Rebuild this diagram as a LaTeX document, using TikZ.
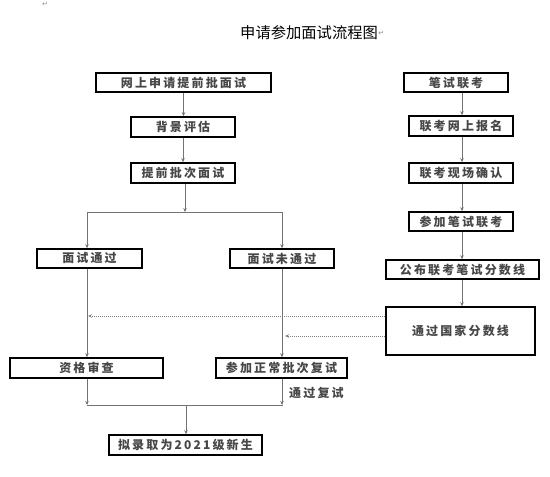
\documentclass[tikz,border=0pt]{standalone}
\usepackage{fontspec}
\newfontfamily\cjk{Noto Sans CJK SC}
\newfontfamily\boxfont[LetterSpace=18]{Noto Sans CJK SC}
\newfontfamily\symfont{DejaVu Sans}
\usetikzlibrary{arrows.meta,shadows}
\begin{document}
\begin{tikzpicture}[x=1pt,y=-1pt,
  boxtext/.style={font=\boxfont\bfseries\fontsize{12}{14}\selectfont,text=black!72},
  box/.style={boxtext,draw=black,line width=1.6pt,fill=white,inner sep=0pt,
    drop shadow={shadow xshift=0.8pt,shadow yshift=-0.8pt,fill=black!40,opacity=1}},
  conn/.style={draw=black!55,line width=0.8pt},
  arr/.style={conn,-{Stealth[length=4pt,width=3.5pt]}},
  dotarr/.style={draw=black!50,line width=0.8pt,dash pattern=on 1pt off 1pt,-{Stealth[length=4pt,width=3.5pt,open]}},
  pmark/.style={font=\symfont\fontsize{7}{8}\selectfont,text=black!45,inner sep=0pt}]
\useasboundingbox (0,0) rectangle (550,477);
\fill[white] (0,0) rectangle (550,477);
% paragraph marks and title
\node[pmark] (m0) at (45,4) {↵};
\node[font=\cjk\fontsize{15.3}{17}\selectfont,inner sep=0pt,anchor=west] (title) at (240,33) {申请参加面试流程图};
\node[pmark,anchor=west] (m1) at (title.east) {↵};
% left column
\node[box,minimum width=175pt,minimum height=19pt] (a1) at (183.5,82.5) {网上申请提前批面试};
\node[box,minimum width=104pt,minimum height=20pt] (a2) at (183,127) {背景评估};
\node[box,minimum width=104pt,minimum height=20pt] (a3) at (183,173) {提前批次面试};
\node[box,minimum width=105pt,minimum height=19pt] (b1) at (89.5,258.5) {面试通过};
\node[box,minimum width=104pt,minimum height=19pt] (b2) at (282,258.5) {面试未通过};
\node[box,minimum width=153pt,minimum height=20pt] (c1) at (86.5,368) {资格审查};
\node[box,minimum width=131pt,minimum height=20pt] (c2) at (281.5,368) {参加正常批次复试};
\node[box,minimum width=153pt,minimum height=20pt] (d) at (185.5,445) {拟录取为2021级新生};
% right column
\node[box,minimum width=104pt,minimum height=19pt] (r1) at (456,82.5) {笔试联考};
\node[box,minimum width=104pt,minimum height=20pt] (r2) at (461,126) {联考网上报名};
\node[box,minimum width=104pt,minimum height=20pt] (r3) at (461,173) {联考现场确认};
\node[box,minimum width=104pt,minimum height=19pt] (r4) at (461,221.5) {参加笔试联考};
\node[box,minimum width=153pt,minimum height=19pt] (r5) at (462.5,269.5) {公布联考笔试分数线};
\node[box,minimum width=149pt,minimum height=48pt] (r6) at (460.5,331) {通过国家分数线};
% coordinates
\coordinate (s) at (185,212);
\coordinate (sl) at (87,212);
\coordinate (sr) at (283,212);
\coordinate (ml) at (87,405);
\coordinate (mr) at (283,405);
\coordinate (mm) at (186,405);
\coordinate (rc) at (462,0);
\coordinate (t1) at (88,316);
\coordinate (t2) at (285,336);
% left connectors
\draw[arr] (a1.south) -- (a1.south |- a2.north);
\draw[arr] (a2.south) -- (a2.south |- a3.north);
\draw[arr] (s |- a3.south) -- (s);
\draw[conn] (sl) -- (sr);
\draw[arr] (sl) -- (sl |- b1.north);
\draw[arr] (b2.north |- sl) -- (b2.north);
\draw[arr] (sl |- b1.south) -- (sl |- c1.north);
\draw[arr] (b2.south) -- (b2.south |- c2.north);
\draw[arr] (ml |- c1.south) -- (ml);
\draw[arr] (b2.south |- c2.south) -- (b2.south |- ml);
\node[boxtext,inner sep=0pt,anchor=west] (lbl) at (289,393) {通过复试};
\draw[conn] (ml) -- (mr);
\draw[arr] (mm) -- (mm |- d.north);
% right connectors
\draw[arr] (rc |- r1.south) -- (rc |- r2.north);
\draw[arr] (rc |- r2.south) -- (rc |- r3.north);
\draw[arr] (rc |- r3.south) -- (rc |- r4.north);
\draw[arr] (rc |- r4.south) -- (rc |- r5.north);
\draw[arr] (rc |- r5.south) -- (rc |- r6.north);
% dotted
\draw[dotarr] (r6.west |- t1) -- (t1);
\draw[dotarr] (r6.west |- t2) -- (t2);
\end{tikzpicture}
\end{document}
